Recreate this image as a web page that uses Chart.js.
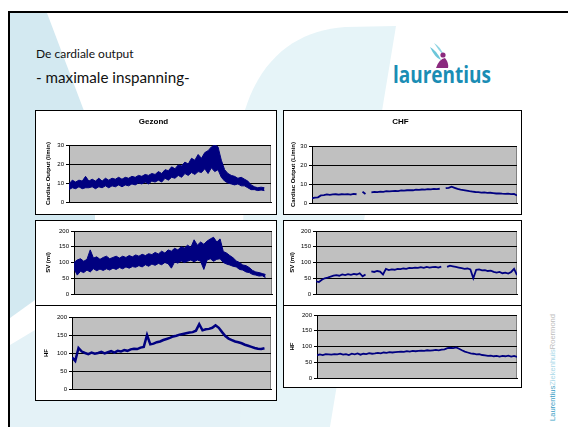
<!DOCTYPE html>
<html>
<head>
<meta charset="utf-8">
<script src="https://cdn.jsdelivr.net/npm/chart.js@4.4.1/dist/chart.umd.min.js"></script>
<style>
html, body { margin: 0; padding: 0; background: #fff; width: 568px; height: 427px; overflow: hidden; position: relative; }
.abs { position: absolute; left: 0; top: 0; }
#slide { position: absolute; left: 8px; top: 11px; width: 620px; height: 500px; border: 2px solid #000; box-sizing: border-box; }
.box { position: absolute; border: 1px solid #000; background: #fff; box-sizing: border-box; }
.box canvas { position: absolute; left: 0; top: 0; }
</style>
</head>
<body>

<svg class="abs" width="568" height="427">
  <!-- achtergrond vlakken -->
  <polygon points="10,13 47,13 95,140 95,300 35,300 10,318" fill="#d3e9f1"/>
  <polygon points="10,345 35,330 290,330 290,427 10,427" fill="#e4f2f7"/>
  <path d="M245,110 C262,55 300,30 345,27 L396,26 L330,427 L240,427 Z" fill="#e6f4f8"/>

  <text x="36" y="58" font-family="Lato" font-size="12" fill="#111">De cardiale output</text>
  <text x="36" y="83" font-family="Lato" font-size="15.2" fill="#111">- maximale inspanning-</text>

  <!-- logo -->
  <path d="M430,47 Q437,51 441,60 Q435,58 430,47 Z" fill="#6cc6d9"/>
  <path d="M434,43 Q441,47 444,56 Q439,51 434,43 Z" fill="#8fd5e3"/>
  <circle cx="443" cy="55" r="2.6" fill="#8b2a7e"/>
  <path d="M436,68 Q439,59 445,58 Q449,63 448,68 Z" fill="#8b2a7e"/>
  <text x="393" y="83" font-family="Open Sans" font-weight="700" font-size="24" fill="#1a8db4" textLength="98" lengthAdjust="spacingAndGlyphs">laurentius</text>

  <text transform="translate(555,421) rotate(-90)" font-family="Liberation Sans" font-size="7.5" textLength="107" lengthAdjust="spacingAndGlyphs"><tspan fill="#3d9fc6">Laurentius</tspan><tspan fill="#a9d8e8">Ziekenhuis</tspan><tspan fill="#bdbdbd">Roermond</tspan></text>
</svg>

<div id="slide"></div>

<div class="box" style="left:35px;top:110px;width:242px;height:105px"><canvas id="gCO" width="240" height="103"></canvas></div>
<div class="box" style="left:283px;top:110px;width:239px;height:105px"><canvas id="cCO" width="237" height="103"></canvas></div>
<div class="box" style="left:35px;top:220px;width:242px;height:86px"><canvas id="gSV" width="240" height="84"></canvas></div>
<div class="box" style="left:283px;top:220px;width:239px;height:86px"><canvas id="cSV" width="237" height="84"></canvas></div>
<div class="box" style="left:35px;top:305px;width:242px;height:96px"><canvas id="gHF" width="240" height="94"></canvas></div>
<div class="box" style="left:283px;top:305px;width:239px;height:83px"><canvas id="cHF" width="237" height="81"></canvas></div>

<script>
// y-as verdeling
var coTicks = [0, 10, 20, 30];
var mlTicks = [0, 50, 100, 150, 200];

// Gezond: onder- en bovenrand van de ruisband
var coLow = [6.5, 7.5, 7, 8, 7, 7.5, 7.5, 8, 7, 8,
  7.5, 8.5, 7.5, 8.5, 8, 9, 8, 9, 8.5, 9.5,
  9, 10, 9.5, 10.5, 9.5, 11, 10.5, 11.5, 10.5, 12.5,
  11.5, 13, 12.5, 14, 13, 15, 14, 15.5, 14.5, 16,
  15.5, 17.5, 15, 18, 16, 17, 13, 11, 10, 9.5,
  9, 9.5, 8.5, 8.5, 7.5, 6.5, 6.5, 6, 6.3, 6];
var coHigh = [9.5, 11.5, 10.5, 11.5, 11, 13.5, 11, 12, 11, 12.5,
  11, 12.5, 11.5, 12.5, 12, 13, 12, 13, 12.5, 13.5,
  13, 14, 13.5, 14.5, 14, 15, 14.5, 16, 15, 17,
  16.5, 18.5, 17.5, 19.5, 19, 21, 20, 23, 22, 25,
  23, 26, 27, 29, 30, 29, 22, 17, 15, 14,
  13.5, 12.5, 13, 12, 11, 9, 8, 7.5, 7.8, 7.5];

var svLow = [80, 60, 72, 68, 76, 70, 80, 74, 79, 75,
  80, 76, 82, 78, 84, 80, 86, 82, 87, 85,
  90, 86, 93, 88, 95, 91, 97, 93, 100, 96,
  82, 102, 98, 105, 100, 104, 108, 102, 108, 104,
  78, 108, 112, 104, 110, 112, 100, 95, 92, 88,
  86, 78, 76, 70, 68, 62, 60, 57, 58, 52];
var svHigh = [100, 108, 112, 104, 110, 140, 114, 118, 110, 116,
  120, 112, 116, 120, 114, 120, 116, 122, 118, 124,
  120, 126, 122, 128, 125, 132, 127, 136, 130, 140,
  136, 145, 140, 150, 146, 155, 148, 172, 155, 165,
  158, 168, 175, 180, 165, 175, 135, 130, 122, 115,
  105, 100, 92, 90, 84, 75, 70, 68, 65, 62];

var hfGezond = [88, 78, 114, 104, 100, 97, 101, 98, 100, 103,
  99, 102, 105, 101, 106, 104, 108, 106, 110, 112,
  111, 115, 117, 150, 124, 126, 130, 132, 136, 139,
  142, 146, 148, 151, 153, 155, 157, 158, 162, 180,
  163, 166, 167, 170, 177, 170, 158, 147, 140, 136,
  132, 130, 127, 123, 120, 117, 114, 112, 111, 113];

// CHF
var chfCO = [2.5, 2.8, 3.0, 4.0, 4.2, 4.5, 4.3, 4.5, 4.6, 4.4,
  4.6, 4.5, 4.7, 4.4, 4.8, 4.6, null, 5.9, 4.7, null,
  5.6, 5.8, 5.7, 6.0, 5.9, 6.2, 6.1, 6.3, 6.4, 6.3,
  6.6, 6.5, 6.7, 6.8, 6.7, 7.0, 6.9, 7.1, 7.0, 7.3,
  7.2, 7.4, 7.3, 7.5, null, 7.8, 8.0, 8.6, 8.0, 7.4,
  7.0, 6.8, 6.5, 6.2, 6.0, 5.8, 5.7, 5.5, 5.6, 5.3,
  5.4, 5.2, 5.0, 5.1, 4.9, 4.8, 4.9, 4.7, 4.8, 4.0];
var chfSV = [40, 38, 45, 50, 52, 55, 58, 60, 58, 62,
  60, 63, 61, 64, 62, 66, 56, 62, null, 72,
  70, 73, 71, 62, 80, 76, 78, 77, 80, 79,
  81, 80, 83, 82, 84, 83, 85, 83, 86, 84,
  85, 86, 84, 87, null, 86, 90, 88, 86, 84,
  82, 80, 81, 78, 50, 77, 78, 75, 76, 73,
  74, 70, 68, 70, 66, 68, 65, 70, 80, 60];
var chfHF = [72, 75, 73, 76, 75, 74, 76, 75, 77, 74,
  76, 73, 77, 75, 78, 74, 77, 76, 79, 77,
  78, 80, 78, 81, 80, 82, 81, 82, 83, 84,
  83, 85, 84, 86, 85, 86, 87, 86, 88, 87,
  88, 89, 88, 90, 91, 95, 96, 95, 97, 93,
  88, 84, 81, 78, 77, 75, 76, 73, 72, 70,
  71, 69, 70, 68, 70, 69, 71, 68, 70, 67];

var navy = '#000080';
var fam = '"Liberation Sans", Arial, sans-serif';

function pts(arr) {
  return arr.map(function (y, i) { return { x: i, y: y }; });
}

var plotFrame = {
  id: 'plotFrame',
  beforeDraw: function (chart) {
    var a = chart.chartArea, c = chart.ctx;
    c.save();
    c.fillStyle = '#c0c0c0';
    c.fillRect(a.left, a.top, a.right - a.left, a.bottom - a.top);
    c.strokeStyle = '#808080';
    c.lineWidth = 1;
    c.beginPath();
    c.moveTo(Math.round(a.right) - 0.5, a.top);
    c.lineTo(Math.round(a.right) - 0.5, a.bottom);
    c.stroke();
    c.restore();
  }
};

function makeChart(id, o) {
  var datasets;
  if (o.low) {
    datasets = [
      { data: pts(o.low), borderColor: navy, borderWidth: 1, pointRadius: 0, fill: false },
      { data: pts(o.high), borderColor: navy, borderWidth: 1, pointRadius: 0, fill: '-1', backgroundColor: navy }
    ];
  } else {
    datasets = [{ data: pts(o.line), borderColor: navy, borderWidth: o.lw, pointRadius: 0, fill: false, spanGaps: false }];
  }
  var ticks = o.ticks;
  new Chart(document.getElementById(id), {
    type: 'line',
    data: { datasets: datasets },
    options: {
      responsive: false,
      animation: false,
      devicePixelRatio: 1,
      events: [],
      layout: { padding: { left: 0, top: o.T, right: o.R, bottom: o.B } },
      plugins: {
        legend: { display: false },
        tooltip: { enabled: false },
        title: {
          display: !!o.title,
          text: o.title || '',
          color: '#000',
          font: { family: fam, size: 8, weight: 'bold' },
          padding: { top: 6.2, bottom: o.titleGap || 0 }
        }
      },
      scales: {
        x: {
          type: 'linear', min: 0, max: o.xMax,
          ticks: { display: false },
          grid: { display: false, drawTicks: false },
          border: { display: true, color: '#000', width: 1 },
          afterFit: function (s) { s.height = 0; }
        },
        y: {
          min: ticks[0], max: ticks[ticks.length - 1],
          ticks: { stepSize: ticks[1] - ticks[0], color: '#000', padding: 2, font: { family: fam, size: 6 } },
          grid: { color: '#000', lineWidth: 1, tickLength: 3, drawTicks: true },
          border: { color: '#000', width: 1 },
          title: {
            display: true, text: o.yTitle, color: '#000',
            font: { family: fam, size: 6, weight: 'bold' },
            padding: { top: o.yPad, bottom: 0 }
          },
          afterFit: function (s) { s.width = o.L; }
        }
      }
    },
    plugins: [plotFrame]
  });
}

makeChart('gCO', { low: coLow, high: coHigh, ticks: coTicks, xMax: 61, title: 'Gezond', titleGap: 18.2,
  yTitle: 'Cardiac Output (l/min)', yPad: 8.4, L: 33, T: 0, R: 5, B: 12 });
makeChart('cCO', { line: chfCO, lw: 1.8, ticks: coTicks, xMax: 69, title: 'CHF', titleGap: 19.2,
  yTitle: 'Cardiac Output (L/min)', yPad: 5.4, L: 28, T: 0, R: 4, B: 11 });
makeChart('gSV', { low: svLow, high: svHigh, ticks: mlTicks, xMax: 61,
  yTitle: 'SV (ml)', yPad: 8.4, L: 38, T: 10, R: 4, B: 11 });
makeChart('cSV', { line: chfSV, lw: 1.8, ticks: mlTicks, xMax: 69,
  yTitle: 'SV (ml)', yPad: 4.4, L: 32, T: 10, R: 4, B: 11 });
makeChart('gHF', { line: hfGezond, lw: 2.5, ticks: mlTicks, xMax: 61,
  yTitle: 'HF', yPad: 6.4, L: 36, T: 11, R: 5, B: 11 });
makeChart('cHF', { line: chfHF, lw: 1.8, ticks: mlTicks, xMax: 69,
  yTitle: 'HF', yPad: 4.4, L: 33, T: 9, R: 4, B: 9 });
</script>
</body>
</html>
